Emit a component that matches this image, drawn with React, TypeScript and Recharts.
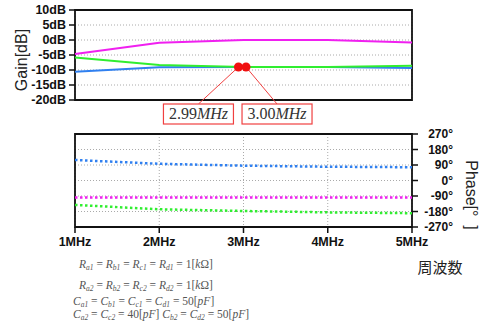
import {
  ComposedChart, LineChart, Line, XAxis, YAxis, CartesianGrid,
  ReferenceArea, ReferenceDot
} from 'recharts'

// frequency axis (MHz)
const FREQ_MHZ = [1, 2, 3, 4, 5]
const X_TICKS = [1, 2, 3, 4, 5]

// gain [dB]
const GAIN_PINK = [-4.7, -0.9, 0, 0, -0.8]
const GAIN_BLUE = [-10.6, -9.1, -9, -9, -9.3]
const GAIN_GREEN = [-5.8, -8.3, -9, -9, -8.6]
const GAIN_TICKS = [-20, -15, -10, -5, 0, 5, 10]

// phase [deg]
const PHASE_BLUE = [119, 97, 86, 80, 77]
const PHASE_PINK = [-99, -99, -98, -98, -98]
const PHASE_GREEN = [-142, -167, -177, -185, -190]
const PHASE_TICKS = [-270, -180, -90, 0, 90, 180, 270]

// marker points on the gain plot
const MARKER_FREQ = [2.94, 3.03]
const MARKER_GAIN = [-9, -9]
const MARKER_TEXT = ['2.99', '3.00']
const MARKER_BOX_DX = [-40, 31]

const PINK = '#f020f0'
const BLUE = '#3080f0'
const GREEN = '#30ee30'

const gainRows = FREQ_MHZ.map((f, i) => ({
  f, pink: GAIN_PINK[i], blue: GAIN_BLUE[i], green: GAIN_GREEN[i],
}))
const phaseRows = FREQ_MHZ.map((f, i) => ({
  f, blue: PHASE_BLUE[i], pink: PHASE_PINK[i], green: PHASE_GREEN[i],
}))

const tickFont = {
  fontFamily: '"Liberation Sans", Arial, sans-serif',
  fontSize: 12.5,
  fontWeight: 700,
  fill: '#111',
}

function Marker({ cx, cy, text, dx }: any) {
  const bx = cx + dx
  const by = cy + 37
  return (
    <g>
      <line x1={cx} y1={cy} x2={bx} y2={by} stroke="#f04040" strokeWidth={1} />
      <rect x={bx - 35} y={by} width={70} height={20} fill="#fff" stroke="#f04040" strokeWidth={1.2} />
      <text
        x={bx}
        y={by + 15}
        textAnchor="middle"
        style={{ fontFamily: '"Liberation Serif", serif', fontSize: 16, fill: '#333' }}
      >
        {text}
        <tspan fontStyle="italic">MHz</tspan>
      </text>
      <circle cx={cx} cy={cy} r={4.5} fill="#f01010" />
    </g>
  )
}

function PhaseTick({ x, y, payload }: any) {
  return (
    <text x={x + 33} y={y} dy="0.35em" textAnchor="end" style={{ ...tickFont, fontSize: 12 }}>
      {payload.value}°
    </text>
  )
}

const mathStyle = {
  position: 'absolute' as const,
  fontFamily: '"Liberation Serif", serif',
  fontSize: 11.5,
  lineHeight: '12px',
  color: '#555',
  whiteSpace: 'nowrap' as const,
}

function V({ s, n }: { s: string; n: string }) {
  return (
    <span>
      <i>{s}</i>
      <span style={{ fontSize: 7.5, fontStyle: 'italic', position: 'relative', top: 2 }}>{n}</span>
    </span>
  )
}

export default function App() {
  return (
    <div style={{ position: 'absolute', left: 0, top: 0, width: 483, height: 327, background: '#fff', overflow: 'hidden' }}>
      <div style={{ position: 'absolute', left: 0, top: 0 }}>
        <ComposedChart width={483} height={130} data={gainRows} margin={{ top: 10, right: 71, bottom: 30, left: 15 }}>
          <CartesianGrid strokeDasharray="1 2" stroke="#aaa" />
          <XAxis
            dataKey="f" type="number" domain={[1, 5]} ticks={X_TICKS}
            height={0} tick={false} axisLine={false} tickLine={false}
          />
          <YAxis
            width={60} domain={[-20, 10]} ticks={GAIN_TICKS} interval={0}
            tickFormatter={(v) => `${v}dB`}
            tick={tickFont} tickSize={6} tickMargin={3}
            axisLine={false} tickLine={{ stroke: '#111', strokeWidth: 1.5 }}
          />
          <ReferenceArea x1={1} x2={5} y1={-20} y2={10} fill="none" stroke="#111" strokeWidth={1.8} fillOpacity={0} />
          <Line type="linear" dataKey="pink" stroke={PINK} strokeWidth={2} dot={false} isAnimationActive={false} />
          <Line type="linear" dataKey="blue" stroke={BLUE} strokeWidth={2} dot={false} isAnimationActive={false} />
          <Line type="linear" dataKey="green" stroke={GREEN} strokeWidth={2} dot={false} isAnimationActive={false} />
          {MARKER_FREQ.map((f, i) => (
            <ReferenceDot
              key={i}
              x={f}
              y={MARKER_GAIN[i]}
              r={4.5}
              ifOverflow="visible"
              shape={(p: any) => <Marker cx={p.cx} cy={p.cy} text={MARKER_TEXT[i]} dx={MARKER_BOX_DX[i]} />}
            />
          ))}
        </ComposedChart>
      </div>

      <div style={{ position: 'absolute', left: 0, top: 120 }}>
        <LineChart width={483} height={137} data={phaseRows} margin={{ top: 14, right: 0, bottom: 0, left: 75 }}>
          <CartesianGrid strokeDasharray="1 2" stroke="#aaa" />
          <XAxis
            dataKey="f" type="number" domain={[1, 5]} ticks={X_TICKS} height={30}
            tickFormatter={(v) => `${v}MHz`}
            tick={tickFont} tickSize={6} tickMargin={4}
            axisLine={false} tickLine={{ stroke: '#111', strokeWidth: 1.5 }}
          />
          <YAxis
            orientation="right" width={71} domain={[-270, 270]} ticks={PHASE_TICKS} interval={0}
            tick={<PhaseTick />} tickSize={6} tickMargin={2}
            axisLine={false} tickLine={{ stroke: '#111', strokeWidth: 1.5 }}
          />
          <ReferenceArea x1={1} x2={5} y1={-270} y2={270} fill="none" stroke="#111" strokeWidth={1.8} fillOpacity={0} />
          <Line type="linear" dataKey="blue" stroke={BLUE} strokeWidth={2.5} strokeDasharray="2.5 2.5" dot={false} isAnimationActive={false} />
          <Line type="linear" dataKey="pink" stroke={PINK} strokeWidth={2.5} strokeDasharray="2.5 2.5" dot={false} isAnimationActive={false} />
          <Line type="linear" dataKey="green" stroke={GREEN} strokeWidth={2.5} strokeDasharray="2.5 2.5" dot={false} isAnimationActive={false} />
        </LineChart>
      </div>

      <div
        style={{
          position: 'absolute', left: 22, top: 60, transform: 'translate(-50%, -50%) rotate(-90deg)',
          fontFamily: '"Liberation Sans", Arial, sans-serif', fontSize: 16, color: '#222', whiteSpace: 'nowrap',
        }}
      >
        Gain[dB]
      </div>
      <div
        style={{
          position: 'absolute', left: 471, top: 195, transform: 'translate(-50%, -50%) rotate(90deg)',
          fontFamily: '"Liberation Sans", Arial, sans-serif', fontSize: 16, color: '#222', whiteSpace: 'pre',
        }}
      >
        {'Phase[°  ]'}
      </div>
      <div
        style={{
          position: 'absolute', left: 440, top: 266, transform: 'translate(-50%, -50%)',
          fontFamily: '"Noto Sans CJK JP", sans-serif', fontSize: 15, color: '#222', whiteSpace: 'nowrap',
        }}
      >
        周波数
      </div>

      <div style={{ ...mathStyle, left: 79, top: 258 }}>
        <V s="R" n="a1" /> = <V s="R" n="b1" /> = <V s="R" n="c1" /> = <V s="R" n="d1" /> = 1[<i>k</i>Ω]
      </div>
      <div style={{ ...mathStyle, left: 79, top: 279 }}>
        <V s="R" n="a2" /> = <V s="R" n="b2" /> = <V s="R" n="c2" /> = <V s="R" n="d2" /> = 1[<i>k</i>Ω]
      </div>
      <div style={{ ...mathStyle, left: 73, top: 295 }}>
        <V s="C" n="a1" /> = <V s="C" n="b1" /> = <V s="C" n="c1" /> = <V s="C" n="d1" /> = 50[<i>pF</i>]
      </div>
      <div style={{ ...mathStyle, left: 73, top: 308 }}>
        <V s="C" n="a2" /> = <V s="C" n="c2" /> = 40[<i>pF</i>] <V s="C" n="b2" /> = <V s="C" n="d2" /> = 50[<i>pF</i>]
      </div>
    </div>
  )
}
